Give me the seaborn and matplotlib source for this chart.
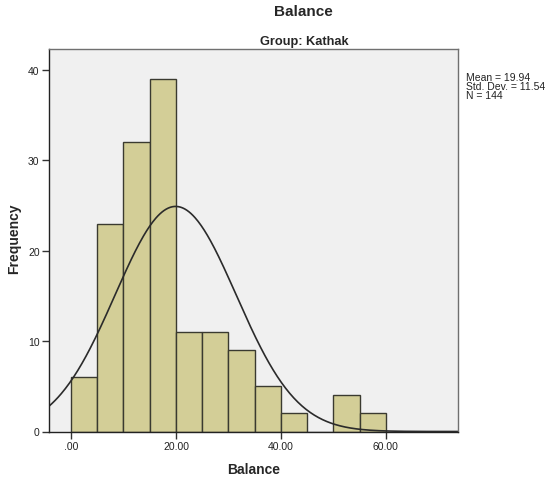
import numpy as np
import pandas as pd
import matplotlib
matplotlib.use("Agg")
import matplotlib.pyplot as plt
import seaborn as sns

bin_left = [0, 5, 10, 15, 20, 25, 30, 35, 40, 45, 50, 55]
counts = [6, 23, 32, 39, 11, 11, 9, 5, 2, 0, 4, 2]
mean_val = 19.94
sd_val = 11.54
n_val = 144
bin_width = 5
x_ticks = [0, 20, 40, 60]
x_tick_labels = [".00", "20.00", "40.00", "60.00"]
y_ticks = [0, 10, 20, 30, 40]

sns.set_style("white")
plt.rcParams['font.family'] = ['Arial', 'Liberation Sans', 'DejaVu Sans']

df = pd.DataFrame({"Balance": [b + bin_width / 2 for b in bin_left], "count": counts})

W, H = 547, 485
L, R, T, B = 49.3, 458.3, 50, 432.5
fig = plt.figure(figsize=(W / 100, H / 100), dpi=100)
ax = fig.add_axes([L / W, 1 - B / H, (R - L) / W, (B - T) / H])
ax.set_facecolor("#F0F0F0")

sns.histplot(data=df, x="Balance", weights="count",
             binwidth=bin_width, binrange=(0, 60),
             color="#D3CE97", edgecolor="#3A3A30", linewidth=1.0, alpha=1.0, ax=ax)

xs = np.linspace(-4.2, 74, 400)
ys = n_val * bin_width / (sd_val * np.sqrt(2 * np.pi)) * np.exp(-0.5 * ((xs - mean_val) / sd_val) ** 2)
sns.lineplot(x=xs, y=ys, color="#2B2B2B", linewidth=1.2, ax=ax)

ax.set_xlim(-4.13, 73.8)
ax.set_ylim(0, 42.3)
ax.set_xticks(x_ticks)
ax.set_xticklabels(x_tick_labels)
ax.set_yticks(y_ticks)
ax.tick_params(axis="both", direction="out", length=5, width=1, color="#333333",
               labelsize=7.5, labelcolor="#222222", pad=2, bottom=True, left=True)

for s in ["left", "bottom"]:
    ax.spines[s].set_color("#222222")
    ax.spines[s].set_linewidth(1.0)
for s in ["top", "right"]:
    ax.spines[s].set_color("#707070")
    ax.spines[s].set_linewidth(1.0)

ax.set_xlabel("Balance", fontsize=10, fontweight="bold", labelpad=8)
ax.set_ylabel("")
fig.text(14 / W, 1 - 239 / H, "Frequency", rotation=90, ha="center", va="center",
         fontsize=10, fontweight="bold")

fig.text(303 / W, 1 - 12 / H, "Balance", ha="center", va="center", fontsize=11, fontweight="bold")
fig.text(304 / W, 1 - 42 / H, "Group: Kathak", ha="center", va="center", fontsize=9.2, fontweight="bold")

fig.text(466 / W, 1 - 87 / H,
         f"Mean = {mean_val:.2f}\nStd. Dev. = {sd_val:.2f}\nN = {n_val}",
         ha="left", va="center", fontsize=7.5, color="#222222", linespacing=0.86)

fig.savefig("out.png", dpi=100)
